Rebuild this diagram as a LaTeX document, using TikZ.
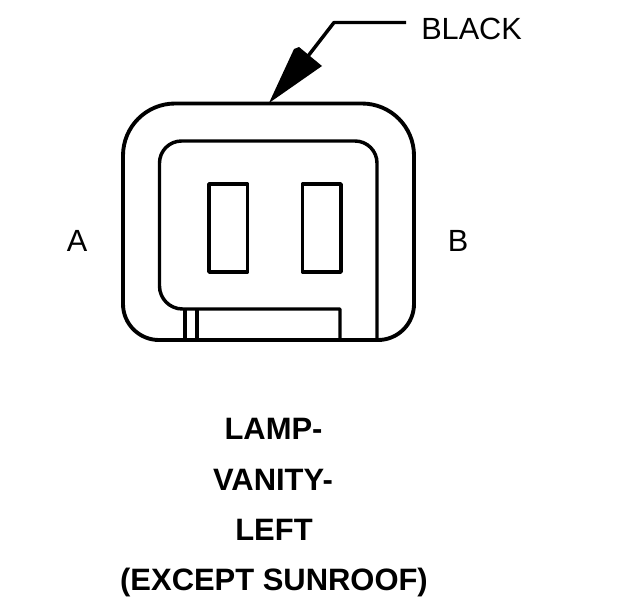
\documentclass[tikz,border=0pt]{standalone}
\usepackage{fontspec}
\setmainfont{Liberation Sans}
\tikzset{
  outline/.style={draw=black,line width=2.9pt,line join=round},
  thin outline/.style={draw=black,line width=2.6pt,line join=round},
  lbl/.style={font=\fontsize{23}{24}\selectfont,inner sep=0pt,text=black},
  title/.style={font=\fontsize{23.2}{24}\selectfont\bfseries,inner sep=0pt,text=black,anchor=base}
}
\begin{document}
\begin{tikzpicture}[x=0.75pt,y=-0.75pt]
\useasboundingbox (0,0) rectangle (624,600);
% housing
\draw[outline] (175,103.5) -- (362,103.5) arc[start angle=-90,end angle=0,radius=52] -- (414,304) arc[start angle=0,end angle=90,radius=36] -- (159,340) arc[start angle=90,end angle=180,radius=36] -- (123,155.5) arc[start angle=180,end angle=270,radius=52] -- cycle;
% inner
\draw[thin outline] (377,340) -- (377,163) arc[start angle=0,end angle=-90,radius=22] -- (181.5,141) arc[start angle=-90,end angle=-180,radius=22] -- (159.5,286) arc[start angle=180,end angle=90,radius=23] -- (340,309) -- (340,340);
\draw[thin outline] (185,309) -- (185,340);
\draw[thin outline] (197,309) -- (197,340);
% terminals
\draw[thin outline] (209,184) rectangle (247.5,272);
\draw[thin outline] (302.5,184) rectangle (341,272);
% leader
\coordinate (tip) at (269,103);
\coordinate (elbow) at (334,22.5);
\node[lbl,anchor=west] (black) at (421,28.5) {BLACK};
\draw[thin outline] (406,22.5) -- (elbow) -- (305,60);
\fill[black] (tip) -- (294,49) -- (299,47) -- (322,66) -- cycle;
% pin labels
\node[lbl] (a) at (77,240.5) {A};
\node[lbl] (b) at (458,240.5) {B};
% titles
\node[title] (t1) at (273.5,439) {LAMP-};
\node[title] (t2) at (273,490) {VANITY-};
\node[title] (t3) at (274,540) {LEFT};
\node[title] (t4) at (274,590) {(EXCEPT SUNROOF)};
\end{tikzpicture}
\end{document}
